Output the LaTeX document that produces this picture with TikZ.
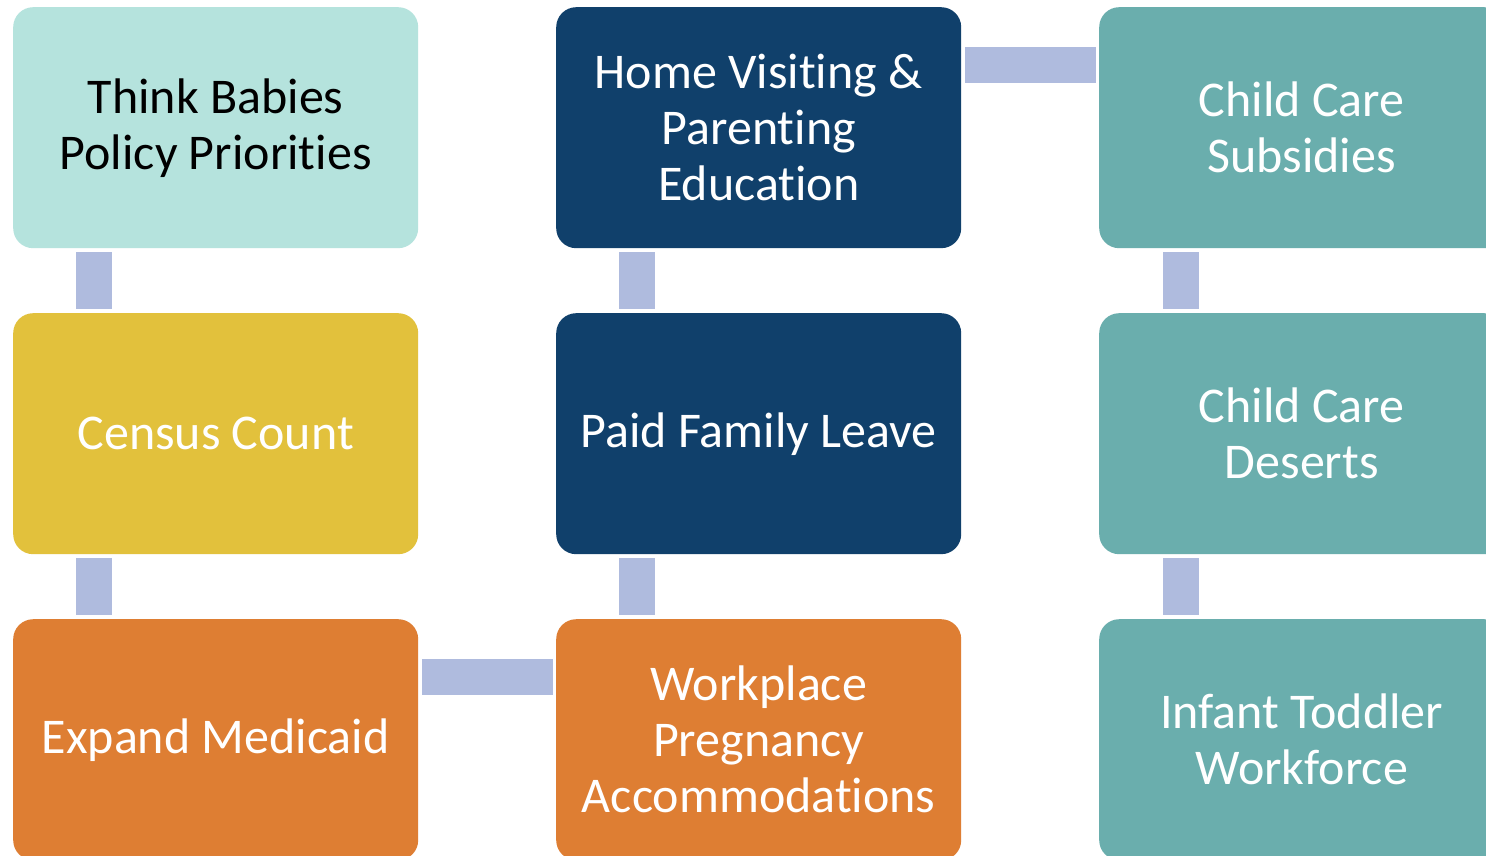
\documentclass[tikz,border=0pt]{standalone}
\usepackage{fontspec}
\setmainfont[Ligatures=NoCommon]{Carlito}
\usetikzlibrary{calc}
\definecolor{cLight}{HTML}{B5E3DD}
\definecolor{cYellow}{HTML}{E2C13C}
\definecolor{cOrange}{HTML}{DE7E33}
\definecolor{cNavy}{HTML}{10406B}
\definecolor{cTeal}{HTML}{6AAEAD}
\definecolor{cBar}{HTML}{AFBBDE}
\tikzset{
  box/.style={rectangle, rounded corners=20pt, minimum width=405pt, minimum height=241pt,
    inner sep=0pt, align=center, font=\fontsize{50}{56}\selectfont, text=white, anchor=north west},
  bar/.style={draw=cBar, line width=36pt}
}
\begin{document}
\begin{tikzpicture}[x=1pt,y=-1pt]
\useasboundingbox (0,0) rectangle (1486,856);
\clip (0,0) rectangle (1486,856);
\fill[white] (0,0) rectangle (1486,856);
\node[box, fill=cLight, text=black] (b1) at (13,7) {Think Babies\\Policy Priorities};
\node[box, fill=cYellow] (b2) at (13,313) {Census Count};
\node[box, fill=cOrange] (b3) at (13,619) {Expand Medicaid};
\node[box, fill=cNavy] (b4) at (556,7) {Home Visiting \&\\Parenting\\Education};
\node[box, fill=cNavy] (b5) at (556,313) {Paid Family Leave};
\node[box, fill=cOrange] (b6) at (556,619) {Workplace\\Pregnancy\\Accommodations};
\node[box, fill=cTeal] (b7) at (1099,7) {Child Care\\Subsidies};
\node[box, fill=cTeal] (b8) at (1099,313) {Child Care\\Deserts};
\node[box, fill=cTeal] (b9) at (1099,619) {Infant Toddler\\Workforce};
% vertical connectors
\draw[bar] ($(b1.south west)+(81,4)$) -- ($(b2.north west)+(81,-4)$);
\draw[bar] ($(b2.south west)+(81,4)$) -- ($(b3.north west)+(81,-4)$);
\draw[bar] ($(b4.south west)+(81,4)$) -- ($(b5.north west)+(81,-4)$);
\draw[bar] ($(b5.south west)+(81,4)$) -- ($(b6.north west)+(81,-4)$);
\draw[bar] ($(b7.south west)+(82,4)$) -- ($(b8.north west)+(82,-4)$);
\draw[bar] ($(b8.south west)+(82,4)$) -- ($(b9.north west)+(82,-4)$);
% horizontal connectors
\draw[bar] ($(b4.north east)+(4,58.5)$) -- ($(b7.north west)+(-3,58.5)$);
\draw[bar] ($(b3.north east)+(4,58)$) -- ($(b6.north west)+(-3,58)$);
\end{tikzpicture}
\end{document}
